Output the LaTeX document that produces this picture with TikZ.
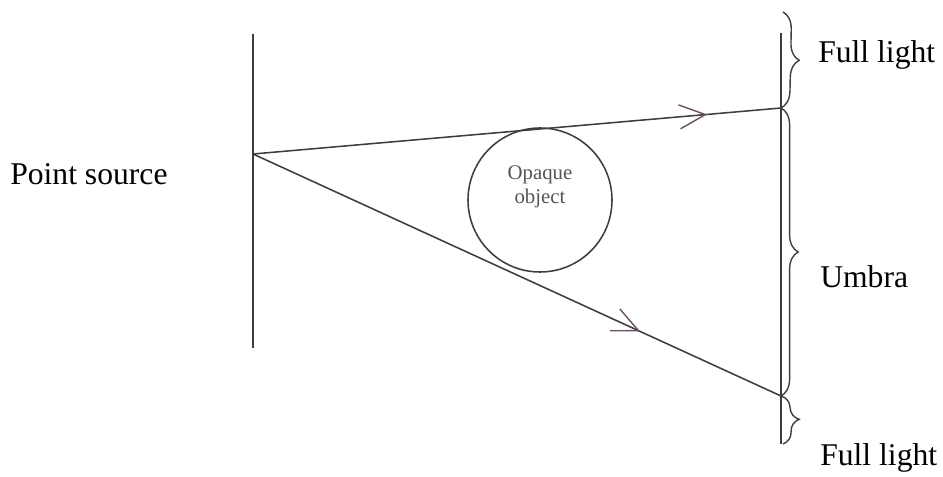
\documentclass[tikz,border=0pt]{standalone}
\usepackage{fontspec}
\setmainfont{Liberation Serif}
\usepackage{tikz}
\usetikzlibrary{arrows.meta,decorations.pathreplacing,decorations.markings}
\definecolor{raygray}{RGB}{62,62,62}
\definecolor{chevgray}{RGB}{105,80,100}
\definecolor{objgray}{RGB}{85,85,85}
\tikzset{
  screenline/.style={
    draw=raygray,
    line width=1.1pt
  },
  lightray/.style={
    draw=raygray,
    line width=1.1pt
  },
  raymark/.style={
    postaction={decorate},
    decoration={
      markings,
      mark=at position #1 with {\arrow[chevgray, line width=1pt]{Straight Barb[length=6.5mm,width=6mm]}}
    }
  },
  shadebrace/.style={
    draw=raygray,
    line width=1pt,
    decorate,
    decoration={brace, amplitude=4.3mm}
  },
  opaque/.style={
    circle,
    draw=raygray,
    line width=1.1pt,
    minimum size=36mm,
    inner sep=0pt
  },
  objlabel/.style={
    align=center,
    text=objgray,
    inner sep=0pt,
    font=\fontsize{14.8}{17.7}\selectfont
  },
  sidelabel/.style={
    anchor=base west,
    inner sep=0pt,
    font=\fontsize{22.5}{27}\selectfont
  }
}

\begin{document}
\begin{tikzpicture}[x=0.25mm,y=0.25mm]
\useasboundingbox (0,0) rectangle (943,-477);

% source plane and screen
\coordinate (srctop) at (253,-34);
\coordinate (srcbot) at (253,-348);
\coordinate (src) at (253,-154);
\coordinate (scrtop) at (781,-33);
\coordinate (scrbot) at (781,-444);
\coordinate (uphit) at (781,-108);
\coordinate (lowhit) at (781,-396);

\node[opaque] (obj) at (540,-200) {};
\node[objlabel] (objtext) at ([yshift=3.3mm]obj.center) {Opaque\\object};

\node[sidelabel] (source) at (10,-185) {Point source};
\node[sidelabel] (fulltop) at (818,-63) {Full light};
\node[sidelabel] (umbra) at (820,-288) {Umbra};
\node[sidelabel] (fullbot) at (820,-465) {Full light};

\draw[screenline] (srctop) -- (srcbot);
\draw[screenline] (scrtop) -- (scrbot);

% rays from the point source
\draw[lightray, raymark=0.86] (src) -- (uphit);
\draw[lightray, raymark=0.733] (src) -- (lowhit);

% regions on the screen
\draw[shadebrace] (783,-12) -- (uphit);
\draw[shadebrace] (uphit) -- (lowhit);
\draw[shadebrace] (lowhit) -- (783,-444);
\end{tikzpicture}
\end{document}
